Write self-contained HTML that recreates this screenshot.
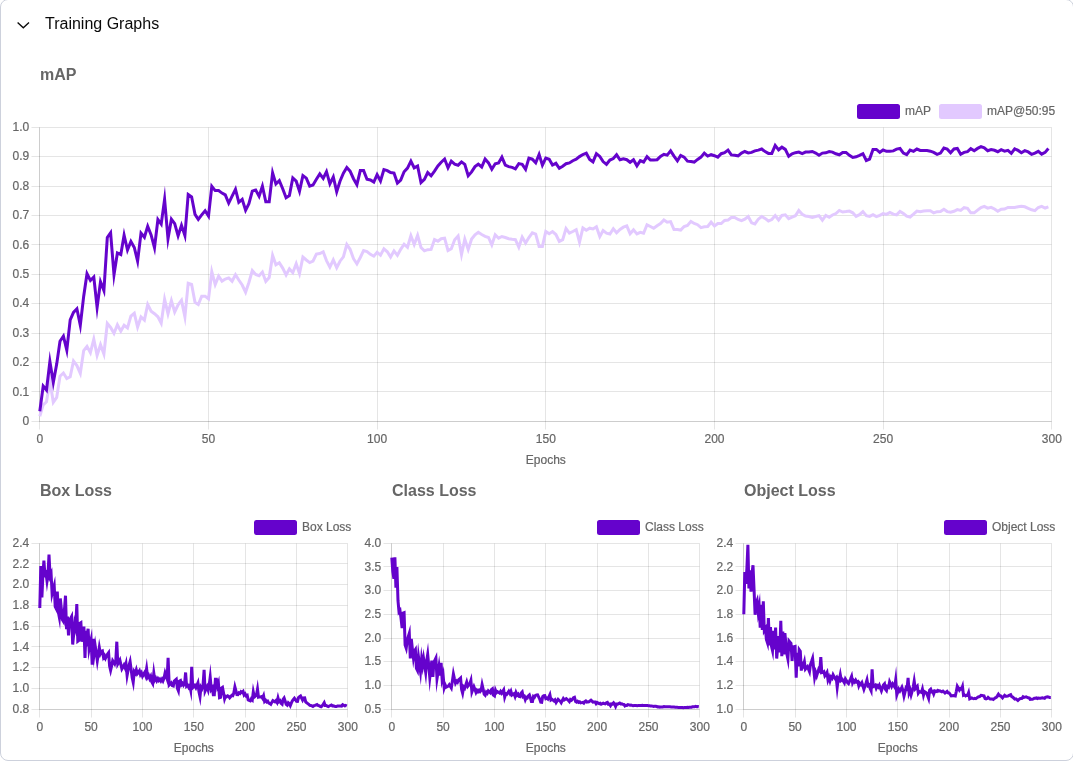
<!DOCTYPE html>
<html lang="en">
<head>
<meta charset="utf-8">
<title>Training Graphs</title>
<style>
html,body{margin:0;padding:0;background:#fff;}
body{width:1073px;height:765px;overflow:hidden;position:relative;font-family:"Liberation Sans", Arial, Helvetica, sans-serif;}
.card{position:absolute;left:0;top:-1px;width:1074px;height:762px;box-sizing:border-box;border:1px solid #cdd1dc;border-radius:8px;background:#fff;}
.hdr{position:absolute;left:45px;top:14px;font-size:16px;line-height:20px;color:#0a0a0a;white-space:nowrap;}
.chev{position:absolute;left:15px;top:16px;width:16px;height:16px;}
.t{position:absolute;font-size:16px;line-height:20px;font-weight:bold;color:#666;white-space:nowrap;}
svg.c{position:absolute;left:0;top:0;}
svg.c text{font-family:"Liberation Sans", Arial, Helvetica, sans-serif;font-size:12px;fill:#666;stroke:#666;stroke-width:0.2px;}
</style>
</head>
<body>
<div class="card"></div>
<svg class="chev" viewBox="0 0 16 16"><path d="M2.6 6.5 L8.3 11.8 L14 6.5" fill="none" stroke="#0a0a0a" stroke-width="1.35" stroke-linecap="butt" stroke-linejoin="miter"/></svg>
<div class="hdr">Training Graphs</div>
<div class="t" style="left:40px;top:65px">mAP</div>
<div class="t" style="left:40px;top:481px">Box Loss</div>
<div class="t" style="left:392px;top:481px">Class Loss</div>
<div class="t" style="left:744px;top:481px">Object Loss</div>
<svg class="c" width="1073" height="765" viewBox="0 0 1073 765">
<text x="29.30" y="130.90" text-anchor="end">1.0</text>
<text x="29.30" y="160.30" text-anchor="end">0.9</text>
<text x="29.30" y="189.70" text-anchor="end">0.8</text>
<text x="29.30" y="219.10" text-anchor="end">0.7</text>
<text x="29.30" y="248.50" text-anchor="end">0.6</text>
<text x="29.30" y="277.90" text-anchor="end">0.5</text>
<text x="29.30" y="307.30" text-anchor="end">0.4</text>
<text x="29.30" y="336.70" text-anchor="end">0.3</text>
<text x="29.30" y="366.10" text-anchor="end">0.2</text>
<text x="29.30" y="395.50" text-anchor="end">0.1</text>
<text x="29.30" y="424.90" text-anchor="end">0</text>
<text x="39.80" y="443" text-anchor="middle">0</text>
<text x="208.47" y="443" text-anchor="middle">50</text>
<text x="377.13" y="443" text-anchor="middle">100</text>
<text x="545.80" y="443" text-anchor="middle">150</text>
<text x="714.47" y="443" text-anchor="middle">200</text>
<text x="883.13" y="443" text-anchor="middle">250</text>
<text x="1051.80" y="443" text-anchor="middle">300</text>
<path d="M31.5 127.5H1051.5M31.5 156.5H1051.5M31.5 186.5H1051.5M31.5 215.5H1051.5M31.5 244.5H1051.5M31.5 274.5H1051.5M31.5 303.5H1051.5M31.5 333.5H1051.5M31.5 362.5H1051.5M31.5 391.5H1051.5M31.5 421.5H1051.5M39.5 127.5V429.5M208.5 127.5V429.5M377.5 127.5V429.5M545.5 127.5V429.5M714.5 127.5V429.5M883.5 127.5V429.5M1051.5 127.5V429.5" fill="none" stroke="rgba(0,0,0,0.1)" stroke-width="1"/>
<path d="M39.5 127.5V421.5M39.5 421.5H1051.5" fill="none" stroke="rgba(0,0,0,0.1)" stroke-width="1"/>
<text x="545.80" y="464" text-anchor="middle">Epochs</text>
<polyline points="39.8,416.2 43.2,404.9 46.5,401.8 49.9,380.8 53.3,402.3 56.7,397.4 60.0,376.2 63.4,373.0 66.8,378.6 70.2,376.8 73.5,361.0 76.9,365.6 80.3,373.3 83.7,350.6 87.0,346.4 90.4,352.7 93.8,339.2 97.1,355.3 100.5,344.7 103.9,354.0 107.3,323.5 110.6,327.4 114.0,333.3 117.4,324.8 120.8,331.2 124.1,325.3 127.5,328.0 130.9,316.2 134.3,313.3 137.6,327.0 141.0,317.0 144.4,320.1 147.7,304.4 151.1,311.2 154.5,313.7 157.9,316.8 161.2,323.2 164.6,299.3 168.0,313.7 171.4,300.6 174.7,312.0 178.1,304.9 181.5,300.4 184.9,316.8 188.2,283.2 191.6,284.3 195.0,302.4 198.3,304.6 201.7,296.2 205.1,296.2 208.5,298.9 211.8,271.7 215.2,284.6 218.6,276.2 222.0,281.1 225.3,279.0 228.7,277.9 232.1,281.2 235.5,274.8 238.8,280.0 242.2,285.0 245.6,292.2 248.9,282.5 252.3,270.5 255.7,274.4 259.1,275.7 262.4,272.1 265.8,281.4 269.2,277.5 272.6,255.4 275.9,264.7 279.3,262.7 282.7,268.1 286.1,274.9 289.4,268.8 292.8,272.7 296.2,263.8 299.5,273.6 302.9,257.1 306.3,260.0 309.7,262.6 313.0,261.2 316.4,254.0 319.8,253.5 323.2,251.8 326.5,260.6 329.9,267.2 333.3,259.9 336.7,267.7 340.0,261.2 343.4,256.8 346.8,244.5 350.1,249.3 353.5,258.7 356.9,263.9 360.3,257.5 363.6,250.5 367.0,251.5 370.4,254.3 373.8,256.2 377.1,252.3 380.5,255.1 383.9,248.8 387.3,251.8 390.6,257.0 394.0,250.9 397.4,255.3 400.7,249.3 404.1,244.2 407.5,247.3 410.9,235.8 414.2,244.5 417.6,235.4 421.0,247.5 424.4,250.8 427.7,249.7 431.1,249.4 434.5,239.5 437.9,241.2 441.2,238.7 444.6,238.1 448.0,250.5 451.3,248.7 454.7,239.7 458.1,236.0 461.5,254.5 464.8,239.1 468.2,249.4 471.6,239.0 475.0,234.8 478.3,232.3 481.7,234.5 485.1,236.3 488.5,237.5 491.8,244.9 495.2,234.8 498.6,238.2 501.9,236.5 505.3,237.5 508.7,238.7 512.1,239.3 515.4,239.7 518.8,247.1 522.2,237.1 525.6,243.0 528.9,237.5 532.3,232.8 535.7,234.2 539.1,246.4 542.4,246.4 545.8,231.4 549.2,233.7 552.5,231.6 555.9,234.5 559.3,241.4 562.7,239.7 566.0,228.6 569.4,233.2 572.8,231.5 576.2,229.7 579.5,242.1 582.9,227.9 586.3,230.2 589.7,228.2 593.0,228.9 596.4,226.7 599.8,236.6 603.1,230.6 606.5,233.2 609.9,234.0 613.3,228.7 616.6,232.8 620.0,229.5 623.4,227.2 626.8,225.9 630.1,233.7 633.5,229.9 636.9,233.9 640.3,232.3 643.6,233.2 647.0,224.8 650.4,226.5 653.7,228.3 657.1,225.7 660.5,223.5 663.9,219.9 667.2,222.2 670.6,221.6 674.0,229.5 677.4,229.5 680.7,230.1 684.1,226.5 687.5,225.4 690.9,221.4 694.2,223.5 697.6,224.7 701.0,227.7 704.3,226.8 707.7,226.5 711.1,222.2 714.5,226.0 717.8,223.5 721.2,223.5 724.6,220.5 728.0,220.1 731.3,217.5 734.7,217.5 738.1,219.5 741.5,220.7 744.8,219.2 748.2,216.6 751.6,222.8 754.9,223.9 758.3,219.2 761.7,216.5 765.1,218.4 768.4,221.0 771.8,219.5 775.2,215.6 778.6,220.0 781.9,215.4 785.3,214.8 788.7,218.7 792.1,217.2 795.4,215.7 798.8,210.4 802.2,214.2 805.5,216.0 808.9,216.5 812.3,217.5 815.7,216.5 819.0,215.6 822.4,220.2 825.8,215.4 829.2,217.3 832.5,215.0 835.9,213.5 839.3,210.5 842.7,212.0 846.0,211.6 849.4,211.1 852.8,212.8 856.1,216.4 859.5,214.7 862.9,211.6 866.3,215.7 869.6,216.4 873.0,214.6 876.4,216.6 879.8,215.3 883.1,213.6 886.5,214.4 889.9,212.4 893.3,214.2 896.6,214.9 900.0,211.4 903.4,213.5 906.7,216.2 910.1,217.0 913.5,214.2 916.9,211.1 920.2,211.8 923.6,211.0 927.0,210.8 930.4,210.8 933.7,212.9 937.1,211.7 940.5,211.6 943.9,209.3 947.2,211.6 950.6,212.3 954.0,211.3 957.3,209.6 960.7,210.4 964.1,207.7 967.5,208.3 970.8,212.8 974.2,212.8 977.6,210.1 981.0,207.5 984.3,206.3 987.7,208.1 991.1,207.3 994.5,209.0 997.8,211.3 1001.2,209.3 1004.6,209.0 1007.9,207.5 1011.3,207.5 1014.7,207.5 1018.1,206.8 1021.4,206.2 1024.8,206.8 1028.2,208.3 1031.6,209.8 1034.9,210.6 1038.3,207.5 1041.7,206.3 1045.1,208.0 1048.4,206.8" fill="none" stroke="#e2c9ff" stroke-width="3" stroke-linejoin="miter" stroke-miterlimit="10" stroke-linecap="butt"/>
<polyline points="39.8,411.2 43.2,386.0 46.5,390.0 49.9,361.5 53.3,382.4 56.7,364.1 60.0,341.2 63.4,336.2 66.8,350.1 70.2,319.9 73.5,312.4 76.9,308.8 80.3,325.4 83.7,296.2 87.0,273.7 90.4,280.5 93.8,277.0 97.1,307.4 100.5,281.7 103.9,290.5 107.3,237.4 110.6,232.8 114.0,274.7 117.4,252.9 120.8,254.6 124.1,235.1 127.5,250.0 130.9,241.5 134.3,247.5 137.6,261.1 141.0,233.1 144.4,237.3 147.7,226.3 151.1,234.9 154.5,247.7 157.9,219.5 161.2,224.1 164.6,199.3 168.0,238.8 171.4,219.2 174.7,223.7 178.1,235.9 181.5,225.4 184.9,235.6 188.2,194.5 191.6,196.8 195.0,214.3 198.3,219.3 201.7,214.9 205.1,210.7 208.5,216.1 211.8,186.3 215.2,190.6 218.6,190.6 222.0,193.1 225.3,194.9 228.7,203.2 232.1,196.2 235.5,189.3 238.8,202.3 242.2,199.4 245.6,210.3 248.9,203.7 252.3,191.2 255.7,190.0 259.1,196.2 262.4,186.2 265.8,201.8 269.2,201.8 272.6,172.9 275.9,184.0 279.3,180.7 282.7,188.7 286.1,197.7 289.4,195.6 292.8,178.0 296.2,181.2 299.5,191.2 302.9,175.6 306.3,178.1 309.7,186.2 313.0,185.0 316.4,179.3 319.8,173.9 323.2,178.4 326.5,171.6 329.9,183.8 333.3,176.9 336.7,191.7 340.0,181.2 343.4,173.1 346.8,167.5 350.1,171.2 353.5,178.7 356.9,184.7 360.3,170.6 363.6,170.6 367.0,179.3 370.4,180.0 373.8,182.1 377.1,174.6 380.5,181.0 383.9,169.6 387.3,170.6 390.6,172.5 394.0,173.1 397.4,183.0 400.7,180.0 404.1,171.8 407.5,168.1 410.9,161.1 414.2,167.9 417.6,166.0 421.0,182.6 424.4,179.3 427.7,172.6 431.1,175.8 434.5,171.1 437.9,165.9 441.2,162.2 444.6,159.0 448.0,167.8 451.3,161.2 454.7,164.1 458.1,165.2 461.5,161.9 464.8,164.4 468.2,175.8 471.6,171.9 475.0,166.6 478.3,164.2 481.7,167.0 485.1,159.1 488.5,162.9 491.8,169.2 495.2,163.7 498.6,162.9 501.9,157.1 505.3,165.1 508.7,166.6 512.1,167.4 515.4,168.8 518.8,163.6 522.2,164.4 525.6,169.4 528.9,158.2 532.3,159.2 535.7,162.7 539.1,154.4 542.4,165.1 545.8,158.1 549.2,159.2 552.5,165.0 555.9,163.3 559.3,168.3 562.7,166.2 566.0,163.7 569.4,162.9 572.8,160.7 576.2,159.2 579.5,156.6 582.9,154.5 586.3,153.2 589.7,159.4 593.0,161.8 596.4,153.7 599.8,156.4 603.1,161.6 606.5,164.3 609.9,160.1 613.3,158.6 616.6,154.8 620.0,159.8 623.4,158.8 626.8,159.7 630.1,162.3 633.5,159.8 636.9,165.8 640.3,160.6 643.6,162.0 647.0,156.7 650.4,160.1 653.7,160.1 657.1,159.7 660.5,156.4 663.9,154.3 667.2,155.1 670.6,150.9 674.0,156.1 677.4,160.8 680.7,155.5 684.1,157.1 687.5,161.2 690.9,161.6 694.2,162.1 697.6,159.4 701.0,157.1 704.3,153.1 707.7,156.1 711.1,154.7 714.5,155.7 717.8,157.1 721.2,153.7 724.6,152.7 728.0,150.1 731.3,154.9 734.7,155.2 738.1,155.8 741.5,153.1 744.8,151.5 748.2,152.9 751.6,152.4 754.9,150.9 758.3,150.1 761.7,149.0 765.1,151.6 768.4,153.4 771.8,153.4 775.2,145.4 778.6,149.8 781.9,147.2 785.3,149.4 788.7,156.3 792.1,153.8 795.4,152.7 798.8,152.1 802.2,153.6 805.5,152.1 808.9,152.1 812.3,151.5 815.7,153.1 819.0,155.3 822.4,153.1 825.8,152.8 829.2,151.5 832.5,152.1 835.9,153.8 839.3,154.8 842.7,152.4 846.0,152.4 849.4,155.3 852.8,157.5 856.1,156.8 859.5,155.3 862.9,153.7 866.3,160.5 869.6,159.1 873.0,149.4 876.4,149.4 879.8,152.3 883.1,150.0 886.5,151.3 889.9,151.3 893.3,150.9 896.6,149.1 900.0,148.5 903.4,153.1 906.7,154.6 910.1,150.1 913.5,151.3 916.9,149.0 920.2,150.4 923.6,150.6 927.0,150.6 930.4,151.2 933.7,152.4 937.1,154.4 940.5,153.1 943.9,148.1 947.2,149.1 950.6,152.7 954.0,148.9 957.3,148.4 960.7,154.3 964.1,152.4 967.5,151.6 970.8,148.7 974.2,150.8 977.6,148.4 981.0,146.7 984.3,147.9 987.7,150.7 991.1,149.6 994.5,150.3 997.8,151.7 1001.2,149.7 1004.6,151.1 1007.9,150.4 1011.3,153.4 1014.7,148.8 1018.1,150.4 1021.4,152.7 1024.8,150.7 1028.2,151.9 1031.6,154.3 1034.9,153.1 1038.3,151.3 1041.7,154.2 1045.1,152.4 1048.4,148.6" fill="none" stroke="#6503cc" stroke-width="3" stroke-linejoin="miter" stroke-miterlimit="10" stroke-linecap="butt"/>
<rect x="858.5" y="105.4" width="40" height="12" rx="1" fill="#6503cc" stroke="#6503cc" stroke-width="3" stroke-linejoin="round"/>
<text x="905" y="114.60">mAP</text>
<rect x="940.5" y="105.4" width="40" height="12" rx="1" fill="#e2c9ff" stroke="#e2c9ff" stroke-width="3" stroke-linejoin="round"/>
<text x="987" y="114.60">mAP@50:95</text>
<text x="29.30" y="546.80" text-anchor="end">2.4</text>
<text x="29.30" y="567.55" text-anchor="end">2.2</text>
<text x="29.30" y="588.30" text-anchor="end">2.0</text>
<text x="29.30" y="609.05" text-anchor="end">1.8</text>
<text x="29.30" y="629.80" text-anchor="end">1.6</text>
<text x="29.30" y="650.55" text-anchor="end">1.4</text>
<text x="29.30" y="671.30" text-anchor="end">1.2</text>
<text x="29.30" y="692.05" text-anchor="end">1.0</text>
<text x="29.30" y="712.80" text-anchor="end">0.8</text>
<text x="39.80" y="731" text-anchor="middle">0</text>
<text x="91.13" y="731" text-anchor="middle">50</text>
<text x="142.47" y="731" text-anchor="middle">100</text>
<text x="193.80" y="731" text-anchor="middle">150</text>
<text x="245.13" y="731" text-anchor="middle">200</text>
<text x="296.47" y="731" text-anchor="middle">250</text>
<text x="347.80" y="731" text-anchor="middle">300</text>
<path d="M31.5 543.5H347.5M31.5 563.5H347.5M31.5 584.5H347.5M31.5 605.5H347.5M31.5 626.5H347.5M31.5 646.5H347.5M31.5 667.5H347.5M31.5 688.5H347.5M31.5 709.5H347.5M39.5 543.5V717.5M91.5 543.5V717.5M142.5 543.5V717.5M193.5 543.5V717.5M245.5 543.5V717.5M296.5 543.5V717.5M347.5 543.5V717.5" fill="none" stroke="rgba(0,0,0,0.1)" stroke-width="1"/>
<path d="M39.5 543.5V709.5M39.5 709.5H347.5" fill="none" stroke="rgba(0,0,0,0.1)" stroke-width="1"/>
<text x="193.80" y="752" text-anchor="middle">Epochs</text>
<polyline points="39.8,608.0 40.8,566.1 41.9,597.4 42.9,575.0 43.9,560.6 44.9,574.5 46.0,573.0 47.0,580.9 48.0,574.0 49.0,554.6 50.1,576.0 51.1,573.7 52.1,593.6 53.1,589.6 54.2,585.6 55.2,606.6 56.2,608.6 57.3,591.5 58.3,611.7 59.3,617.0 60.3,598.5 61.4,609.1 62.4,619.8 63.4,621.4 64.4,610.4 65.5,595.7 66.5,629.1 67.5,616.6 68.5,635.5 69.6,620.4 70.6,618.4 71.6,616.5 72.7,644.5 73.7,634.2 74.7,623.8 75.7,628.0 76.8,604.1 77.8,641.3 78.8,640.5 79.8,623.3 80.9,622.6 81.9,641.7 82.9,634.1 83.9,626.6 85.0,658.0 86.0,630.8 87.0,637.0 88.1,628.8 89.1,649.1 90.1,644.4 91.1,639.8 92.2,664.8 93.2,638.8 94.2,653.3 95.2,645.9 96.3,653.3 97.3,660.7 98.3,654.1 99.3,647.5 100.4,653.6 101.4,651.4 102.4,650.9 103.5,657.3 104.5,655.7 105.5,658.3 106.5,656.2 107.6,654.1 108.6,652.7 109.6,666.1 110.6,670.4 111.7,665.6 112.7,660.7 113.7,662.3 114.7,663.9 115.8,660.5 116.8,641.7 117.8,664.0 118.9,662.1 119.9,660.1 120.9,664.6 121.9,669.0 123.0,667.1 124.0,665.1 125.0,667.5 126.0,663.8 127.1,675.5 128.1,670.2 129.1,665.0 130.1,661.5 131.2,669.7 132.2,677.8 133.2,682.3 134.3,671.6 135.3,673.1 136.3,669.8 137.3,673.7 138.4,672.3 139.4,670.8 140.4,674.5 141.4,672.9 142.5,676.3 143.5,674.5 144.5,672.7 145.5,675.3 146.6,668.6 147.6,677.0 148.6,675.4 149.7,678.6 150.7,676.5 151.7,681.8 152.7,683.6 153.8,673.1 154.8,680.0 155.8,678.3 156.8,680.7 157.9,678.7 158.9,680.5 159.9,679.2 160.9,680.9 162.0,679.0 163.0,680.9 164.0,678.4 165.1,672.9 166.1,675.8 167.1,678.8 168.1,657.9 169.2,685.0 170.2,684.0 171.2,683.0 172.2,685.5 173.3,685.9 174.3,681.0 175.3,680.1 176.3,679.2 177.4,688.3 178.4,690.8 179.4,681.2 180.5,680.6 181.5,684.7 182.5,683.5 183.5,685.3 184.6,683.6 185.6,672.5 186.6,686.0 187.6,685.1 188.7,687.4 189.7,685.7 190.7,690.2 191.7,666.9 192.8,687.7 193.8,686.6 194.8,685.5 195.9,687.7 196.9,685.3 197.9,682.9 198.9,691.4 200.0,696.6 201.0,687.1 202.0,688.6 203.0,685.7 204.1,669.9 205.1,691.2 206.1,689.0 207.1,686.7 208.2,690.1 209.2,684.8 210.2,677.2 211.3,689.4 212.3,687.9 213.3,694.8 214.3,694.8 215.4,679.2 216.4,679.2 217.4,686.0 218.4,683.0 219.5,697.7 220.5,697.4 221.5,688.1 222.5,687.4 223.6,693.2 224.6,698.9 225.6,696.1 226.7,696.7 227.7,695.8 228.7,696.4 229.7,697.8 230.8,696.6 231.8,695.3 232.8,695.6 233.8,693.0 234.9,686.9 235.9,690.7 236.9,694.5 237.9,694.6 239.0,692.9 240.0,693.5 241.0,691.7 242.1,692.5 243.1,691.4 244.1,694.9 245.1,693.8 246.2,696.0 247.2,695.4 248.2,699.9 249.2,700.4 250.3,700.9 251.3,698.9 252.3,699.9 253.3,691.9 254.4,697.0 255.4,696.1 256.4,695.2 257.5,689.1 258.5,697.1 259.5,696.7 260.5,696.9 261.6,696.6 262.6,698.2 263.6,695.8 264.6,701.5 265.7,700.4 266.7,701.9 267.7,701.2 268.7,703.0 269.8,703.6 270.8,704.3 271.8,702.4 272.9,700.6 273.9,701.2 274.9,701.8 275.9,700.7 277.0,702.4 278.0,697.9 279.0,701.6 280.0,700.7 281.1,703.4 282.1,704.2 283.1,699.3 284.1,697.9 285.2,701.2 286.2,704.4 287.2,705.2 288.3,702.8 289.3,703.7 290.3,705.7 291.3,703.2 292.4,700.7 293.4,699.5 294.4,698.3 295.4,699.7 296.5,701.2 297.5,701.3 298.5,697.6 299.5,696.8 300.6,696.0 301.6,698.1 302.6,700.1 303.7,697.9 304.7,697.8 305.7,701.9 306.7,702.8 307.8,703.6 308.8,704.4 309.8,705.3 310.8,705.4 311.9,705.9 312.9,706.4 313.9,705.7 314.9,705.4 316.0,705.0 317.0,704.5 318.0,705.4 319.1,705.7 320.1,706.3 321.1,706.7 322.1,705.9 323.2,704.3 324.2,702.7 325.2,705.5 326.2,705.5 327.3,706.1 328.3,706.6 329.3,706.0 330.3,705.5 331.4,705.0 332.4,705.9 333.4,705.8 334.5,706.3 335.5,706.4 336.5,706.5 337.5,705.9 338.6,705.9 339.6,706.0 340.6,706.1 341.6,706.2 342.7,704.7 343.7,705.3 344.7,705.9 345.7,705.5 346.8,706.0" fill="none" stroke="#6503cc" stroke-width="3" stroke-linejoin="miter" stroke-miterlimit="10" stroke-linecap="butt"/>
<rect x="255.5" y="521.4" width="40" height="12" rx="1" fill="#6503cc" stroke="#6503cc" stroke-width="3" stroke-linejoin="round"/>
<text x="302" y="530.60">Box Loss</text>
<text x="381.30" y="546.80" text-anchor="end">4.0</text>
<text x="381.30" y="570.51" text-anchor="end">3.5</text>
<text x="381.30" y="594.23" text-anchor="end">3.0</text>
<text x="381.30" y="617.94" text-anchor="end">2.5</text>
<text x="381.30" y="641.66" text-anchor="end">2.0</text>
<text x="381.30" y="665.37" text-anchor="end">1.5</text>
<text x="381.30" y="689.09" text-anchor="end">1.0</text>
<text x="381.30" y="712.80" text-anchor="end">0.5</text>
<text x="391.80" y="731" text-anchor="middle">0</text>
<text x="443.13" y="731" text-anchor="middle">50</text>
<text x="494.47" y="731" text-anchor="middle">100</text>
<text x="545.80" y="731" text-anchor="middle">150</text>
<text x="597.13" y="731" text-anchor="middle">200</text>
<text x="648.47" y="731" text-anchor="middle">250</text>
<text x="699.80" y="731" text-anchor="middle">300</text>
<path d="M383.5 543.5H699.5M383.5 566.5H699.5M383.5 590.5H699.5M383.5 614.5H699.5M383.5 638.5H699.5M383.5 661.5H699.5M383.5 685.5H699.5M383.5 709.5H699.5M391.5 543.5V717.5M443.5 543.5V717.5M494.5 543.5V717.5M545.5 543.5V717.5M597.5 543.5V717.5M648.5 543.5V717.5M699.5 543.5V717.5" fill="none" stroke="rgba(0,0,0,0.1)" stroke-width="1"/>
<path d="M391.5 543.5V709.5M391.5 709.5H699.5" fill="none" stroke="rgba(0,0,0,0.1)" stroke-width="1"/>
<text x="545.80" y="752" text-anchor="middle">Epochs</text>
<polyline points="391.8,557.6 392.8,571.5 393.9,578.8 394.9,557.4 395.9,587.8 396.9,567.0 398.0,600.7 399.0,611.8 400.0,610.5 401.0,618.0 402.1,628.0 403.1,613.0 404.1,612.6 405.1,645.0 406.2,648.2 407.2,640.5 408.2,637.0 409.3,633.4 410.3,658.4 411.3,638.8 412.3,648.1 413.4,657.5 414.4,651.1 415.4,649.6 416.4,668.4 417.5,670.6 418.5,656.9 419.5,664.3 420.5,671.7 421.6,658.9 422.6,665.4 423.6,658.5 424.7,665.4 425.7,672.3 426.7,660.8 427.7,654.5 428.8,666.1 429.8,677.6 430.8,669.1 431.8,660.7 432.9,676.8 433.9,662.2 434.9,660.1 435.9,658.0 437.0,678.8 438.0,672.5 439.0,666.2 440.1,675.5 441.1,662.9 442.1,678.9 443.1,675.0 444.2,687.9 445.2,684.9 446.2,687.1 447.2,686.6 448.3,686.1 449.3,684.7 450.3,686.3 451.3,688.0 452.4,681.0 453.4,674.0 454.4,678.6 455.5,683.1 456.5,681.2 457.5,682.3 458.5,679.9 459.6,679.0 460.6,678.0 461.6,689.6 462.6,693.2 463.7,686.9 464.7,688.1 465.7,685.1 466.7,682.0 467.8,686.2 468.8,685.0 469.8,683.8 470.9,680.4 471.9,692.0 472.9,689.3 473.9,686.7 475.0,689.6 476.0,692.4 477.0,690.4 478.0,691.7 479.1,690.3 480.1,691.6 481.1,690.4 482.1,684.6 483.2,689.4 484.2,694.2 485.2,695.2 486.3,692.1 487.3,693.2 488.3,690.9 489.3,691.9 490.4,692.9 491.4,689.6 492.4,688.8 493.4,695.1 494.5,695.9 495.5,690.2 496.5,692.6 497.5,691.6 498.6,692.4 499.6,693.1 500.6,691.4 501.7,693.2 502.7,691.6 503.7,689.9 504.7,697.1 505.8,693.7 506.8,694.3 507.8,692.8 508.8,691.3 509.9,693.4 510.9,691.3 511.9,695.0 512.9,694.3 514.0,693.7 515.0,696.4 516.0,692.6 517.1,695.2 518.1,694.2 519.1,696.5 520.1,696.7 521.2,693.0 522.2,691.9 523.2,696.7 524.2,696.2 525.3,699.7 526.3,697.4 527.3,697.9 528.3,695.9 529.4,694.9 530.4,697.8 531.4,701.4 532.5,701.4 533.5,696.5 534.5,697.3 535.5,695.4 536.6,694.9 537.6,694.8 538.6,696.8 539.6,698.9 540.7,702.2 541.7,702.3 542.7,696.6 543.7,695.8 544.8,695.7 545.8,698.6 546.8,698.1 547.9,699.1 548.9,696.9 549.9,694.7 550.9,700.0 552.0,699.3 553.0,700.1 554.0,700.9 555.0,699.9 556.1,702.5 557.1,700.9 558.1,699.4 559.1,700.3 560.2,701.2 561.2,702.7 562.2,700.6 563.3,698.5 564.3,699.9 565.3,699.3 566.3,698.7 567.4,699.6 568.4,700.4 569.4,701.5 570.4,699.5 571.5,700.3 572.5,699.1 573.5,697.8 574.5,697.3 575.6,701.5 576.6,702.1 577.6,701.2 578.7,702.3 579.7,701.8 580.7,702.8 581.7,702.6 582.8,702.4 583.8,703.1 584.8,701.6 585.8,700.9 586.9,702.1 587.9,701.9 588.9,701.8 589.9,701.1 591.0,700.3 592.0,701.2 593.0,702.2 594.1,702.1 595.1,702.0 596.1,703.7 597.1,702.5 598.2,703.1 599.2,703.7 600.2,703.3 601.2,704.2 602.3,703.7 603.3,703.2 604.3,703.6 605.3,703.9 606.4,702.9 607.4,702.5 608.4,704.3 609.5,704.1 610.5,705.6 611.5,703.9 612.5,704.1 613.6,702.9 614.6,704.1 615.6,706.4 616.6,704.0 617.7,704.1 618.7,703.5 619.7,703.0 620.7,703.9 621.8,703.8 622.8,704.3 623.8,704.4 624.9,705.9 625.9,705.3 626.9,705.4 627.9,704.6 629.0,704.9 630.0,705.3 631.0,705.1 632.0,705.4 633.1,705.8 634.1,705.6 635.1,705.5 636.1,705.6 637.2,705.7 638.2,705.6 639.2,705.5 640.3,705.6 641.3,705.4 642.3,705.3 643.3,705.5 644.4,705.6 645.4,705.6 646.4,705.6 647.4,705.6 648.5,705.7 649.5,705.8 650.5,705.9 651.5,706.0 652.6,706.1 653.6,706.5 654.6,706.3 655.7,706.2 656.7,706.5 657.7,706.9 658.7,706.7 659.8,707.1 660.8,707.0 661.8,706.9 662.8,706.9 663.9,706.5 664.9,706.8 665.9,706.8 666.9,706.7 668.0,706.7 669.0,706.8 670.0,706.8 671.1,706.9 672.1,706.9 673.1,707.0 674.1,707.1 675.2,707.2 676.2,707.3 677.2,707.3 678.2,707.4 679.3,707.5 680.3,707.5 681.3,707.5 682.3,707.5 683.4,707.7 684.4,707.6 685.4,707.5 686.5,707.5 687.5,707.2 688.5,707.5 689.5,707.2 690.6,707.2 691.6,707.2 692.6,706.7 693.6,706.7 694.7,706.7 695.7,706.4 696.7,706.7 697.7,706.6 698.8,706.8" fill="none" stroke="#6503cc" stroke-width="3" stroke-linejoin="miter" stroke-miterlimit="10" stroke-linecap="butt"/>
<rect x="598.5" y="521.4" width="40" height="12" rx="1" fill="#6503cc" stroke="#6503cc" stroke-width="3" stroke-linejoin="round"/>
<text x="645" y="530.60">Class Loss</text>
<text x="733.30" y="546.80" text-anchor="end">2.4</text>
<text x="733.30" y="570.51" text-anchor="end">2.2</text>
<text x="733.30" y="594.23" text-anchor="end">2.0</text>
<text x="733.30" y="617.94" text-anchor="end">1.8</text>
<text x="733.30" y="641.66" text-anchor="end">1.6</text>
<text x="733.30" y="665.37" text-anchor="end">1.4</text>
<text x="733.30" y="689.09" text-anchor="end">1.2</text>
<text x="733.30" y="712.80" text-anchor="end">1.0</text>
<text x="743.80" y="731" text-anchor="middle">0</text>
<text x="795.13" y="731" text-anchor="middle">50</text>
<text x="846.47" y="731" text-anchor="middle">100</text>
<text x="897.80" y="731" text-anchor="middle">150</text>
<text x="949.13" y="731" text-anchor="middle">200</text>
<text x="1000.47" y="731" text-anchor="middle">250</text>
<text x="1051.80" y="731" text-anchor="middle">300</text>
<path d="M735.5 543.5H1051.5M735.5 566.5H1051.5M735.5 590.5H1051.5M735.5 614.5H1051.5M735.5 638.5H1051.5M735.5 661.5H1051.5M735.5 685.5H1051.5M735.5 709.5H1051.5M743.5 543.5V717.5M795.5 543.5V717.5M846.5 543.5V717.5M897.5 543.5V717.5M949.5 543.5V717.5M1000.5 543.5V717.5M1051.5 543.5V717.5" fill="none" stroke="rgba(0,0,0,0.1)" stroke-width="1"/>
<path d="M743.5 543.5V709.5M743.5 709.5H1051.5" fill="none" stroke="rgba(0,0,0,0.1)" stroke-width="1"/>
<text x="897.80" y="752" text-anchor="middle">Epochs</text>
<polyline points="743.8,614.2 744.8,572.1 745.9,583.9 746.9,568.1 747.9,544.7 748.9,588.4 750.0,570.4 751.0,591.7 752.0,573.7 753.0,565.3 754.1,590.6 755.1,614.8 756.1,603.0 757.1,600.4 758.2,612.0 759.2,606.4 760.2,627.6 761.3,604.7 762.3,630.0 763.3,601.3 764.3,630.5 765.4,628.6 766.4,639.4 767.4,642.6 768.4,618.0 769.5,645.5 770.5,627.1 771.5,646.4 772.5,650.6 773.6,630.8 774.6,649.4 775.6,627.6 776.7,658.5 777.7,647.2 778.7,636.0 779.7,652.3 780.8,620.8 781.8,656.2 782.8,631.5 783.8,654.3 784.9,633.2 785.9,643.7 786.9,654.2 787.9,659.0 789.0,640.9 790.0,642.1 791.0,643.3 792.1,660.9 793.1,647.0 794.1,646.7 795.1,646.4 796.2,677.6 797.2,652.7 798.2,666.5 799.2,649.7 800.3,651.3 801.3,670.6 802.3,663.9 803.3,665.6 804.4,661.7 805.4,669.1 806.4,667.8 807.5,666.6 808.5,669.1 809.5,671.6 810.5,664.3 811.6,661.3 812.6,658.3 813.6,667.9 814.6,677.6 815.7,672.6 816.7,675.8 817.7,672.6 818.7,669.4 819.8,670.9 820.8,657.0 821.8,672.6 822.9,672.4 823.9,671.7 824.9,675.8 825.9,674.5 827.0,672.5 828.0,679.9 829.0,677.3 830.0,680.8 831.1,677.1 832.1,678.2 833.1,674.8 834.1,676.7 835.2,678.5 836.2,677.5 837.2,687.3 838.3,678.6 839.3,679.8 840.3,674.8 841.3,680.3 842.4,679.5 843.4,681.2 844.4,682.9 845.4,679.0 846.5,680.8 847.5,682.7 848.5,683.7 849.5,681.3 850.6,678.8 851.6,676.3 852.6,682.8 853.7,680.6 854.7,682.0 855.7,680.2 856.7,682.0 857.8,681.6 858.8,685.8 859.8,683.3 860.8,684.5 861.9,682.7 862.9,686.0 863.9,689.3 864.9,686.2 866.0,683.2 867.0,679.8 868.0,685.7 869.1,684.9 870.1,688.5 871.1,690.7 872.1,669.4 873.2,686.6 874.2,685.9 875.2,685.2 876.2,688.2 877.3,685.8 878.3,687.0 879.3,685.2 880.3,688.0 881.4,690.8 882.4,687.9 883.4,685.0 884.5,683.8 885.5,689.4 886.5,690.7 887.5,686.5 888.6,687.2 889.6,681.8 890.6,684.1 891.6,686.5 892.7,683.9 893.7,685.4 894.7,687.0 895.7,680.0 896.8,694.8 897.8,691.9 898.8,689.1 899.9,691.0 900.9,689.1 901.9,687.2 902.9,690.4 904.0,696.1 905.0,692.1 906.0,688.0 907.0,689.0 908.1,677.8 909.1,692.9 910.1,690.3 911.1,694.9 912.2,691.0 913.2,687.0 914.2,681.0 915.3,688.7 916.3,687.5 917.3,686.3 918.3,693.2 919.4,691.5 920.4,692.0 921.4,692.4 922.4,689.1 923.5,695.1 924.5,691.6 925.5,692.3 926.5,693.0 927.6,695.7 928.6,698.4 929.6,690.2 930.7,689.2 931.7,691.8 932.7,691.4 933.7,694.0 934.8,690.9 935.8,691.2 936.8,691.5 937.8,690.4 938.9,691.1 939.9,690.9 940.9,691.3 941.9,691.8 943.0,691.1 944.0,692.0 945.0,693.0 946.1,692.2 947.1,691.4 948.1,692.8 949.1,692.9 950.2,694.4 951.2,695.8 952.2,695.7 953.2,695.5 954.3,695.8 955.3,696.0 956.3,691.5 957.3,686.3 958.4,688.2 959.4,690.1 960.4,688.6 961.5,689.3 962.5,686.5 963.5,695.3 964.5,694.9 965.6,695.8 966.6,695.2 967.6,695.3 968.6,692.6 969.7,698.8 970.7,698.3 971.7,697.9 972.7,698.3 973.8,698.7 974.8,698.4 975.8,698.7 976.9,697.9 977.9,697.1 978.9,696.8 979.9,696.5 981.0,695.3 982.0,695.5 983.0,695.7 984.0,695.9 985.1,698.6 986.1,699.0 987.1,698.6 988.1,697.4 989.2,698.3 990.2,699.1 991.2,699.1 992.3,699.0 993.3,699.5 994.3,698.7 995.3,697.9 996.4,697.4 997.4,695.9 998.4,694.3 999.4,695.7 1000.5,695.7 1001.5,696.8 1002.5,697.9 1003.5,696.6 1004.6,695.3 1005.6,696.2 1006.6,696.2 1007.7,696.1 1008.7,695.6 1009.7,695.0 1010.7,694.6 1011.8,696.8 1012.8,697.1 1013.8,698.1 1014.8,699.1 1015.9,698.8 1016.9,699.6 1017.9,700.5 1018.9,699.5 1020.0,698.6 1021.0,698.5 1022.0,698.4 1023.1,696.7 1024.1,697.3 1025.1,697.1 1026.1,696.9 1027.2,697.3 1028.2,697.7 1029.2,697.9 1030.2,699.4 1031.3,699.3 1032.3,699.2 1033.3,698.9 1034.3,698.2 1035.4,698.2 1036.4,697.9 1037.4,698.5 1038.5,698.1 1039.5,698.2 1040.5,698.2 1041.5,698.0 1042.6,697.8 1043.6,698.1 1044.6,698.4 1045.6,697.3 1046.7,696.9 1047.7,696.8 1048.7,697.1 1049.7,697.5 1050.8,697.5" fill="none" stroke="#6503cc" stroke-width="3" stroke-linejoin="miter" stroke-miterlimit="10" stroke-linecap="butt"/>
<rect x="945.5" y="521.4" width="40" height="12" rx="1" fill="#6503cc" stroke="#6503cc" stroke-width="3" stroke-linejoin="round"/>
<text x="992" y="530.60">Object Loss</text>
</svg>
</body>
</html>
